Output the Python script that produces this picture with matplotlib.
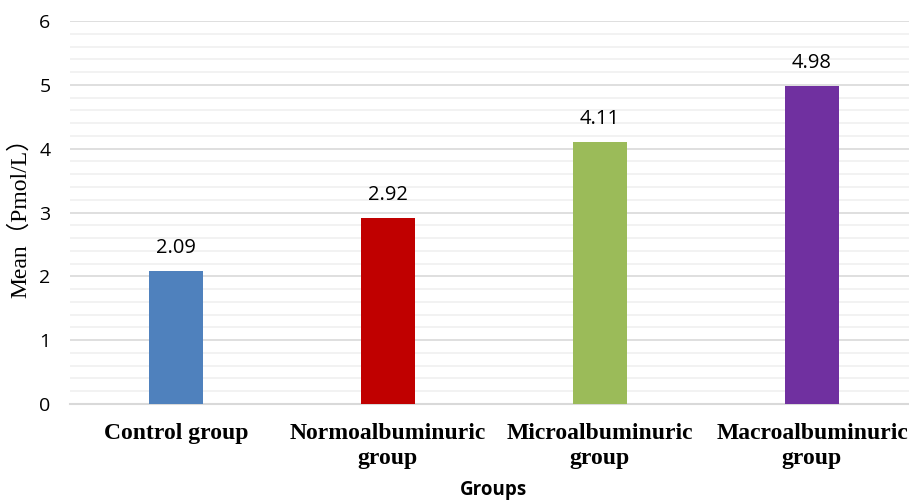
import matplotlib
matplotlib.use("Agg")
import matplotlib.pyplot as plt
import numpy as np

groups = ["Control group", "Normoalbuminuric\ngroup", "Microalbuminuric\ngroup", "Macroalbuminuric\ngroup"]
means = [2.09, 2.92, 4.11, 4.98]
bar_colors = ["#4F81BD", "#C00000", "#9BBB59", "#7030A0"]
y_ticks = [0, 1, 2, 3, 4, 5, 6]

fig = plt.figure(figsize=(9.09, 5.00), dpi=100)
ax = fig.add_axes([70 / 909, 1 - 404 / 500, 848 / 909, 383 / 500])

x = np.arange(len(groups))
ax.bar(x, means, width=0.255, color=bar_colors, zorder=3)

for xi, v in zip(x, means):
    ax.text(xi, v + 0.2, f"{v:.2f}", ha="center", va="bottom",
            fontsize=14.5, family="Open Sans", color="#000000")

ax.set_xlim(-0.5, len(groups) - 0.5)
ax.set_ylim(0, 6)
ax.set_yticks(y_ticks)
ax.set_yticks(np.arange(0, 6.01, 0.2), minor=True)
ax.set_yticklabels([str(t) for t in y_ticks], family="Open Sans", fontsize=14)
ax.tick_params(axis="y", which="both", length=0, pad=14)
ax.grid(axis="y", which="major", color="#d9d9d9", linewidth=1.2, zorder=0)
ax.grid(axis="y", which="minor", color="#f0f0f0", linewidth=1.2, zorder=0)

ax.set_xticks(x)
ax.set_xticklabels(groups, family="Liberation Serif", fontweight="bold",
                   fontsize=17, linespacing=1.2)
ax.tick_params(axis="x", length=0, pad=14)

for side in ["top", "right", "left"]:
    ax.spines[side].set_visible(False)
ax.spines["bottom"].set_color("#d9d9d9")
ax.spines["bottom"].set_linewidth(1.5)

ax.set_ylabel("Mean（Pmol/L）", family=["Liberation Serif", "Noto Sans CJK SC"],
              fontsize=17, labelpad=6)
fig.text(494 / 909, 1 - 490 / 500, "Groups", ha="center", va="center",
         family="Open Sans", fontweight="bold", fontsize=13.5)

fig.savefig("out.png", dpi=100)
